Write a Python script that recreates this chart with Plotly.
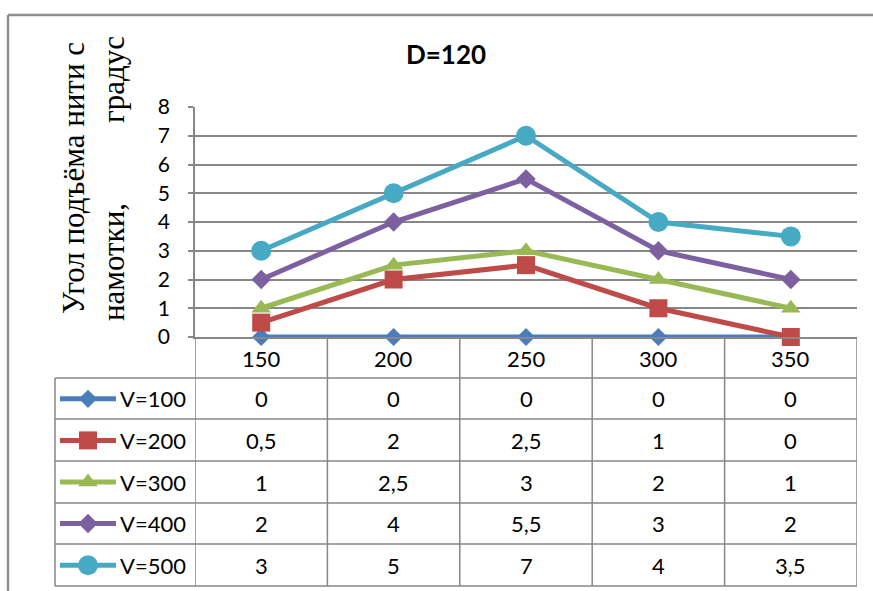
import plotly.graph_objects as go

# ---------------- data ----------------
categories = ["150", "200", "250", "300", "350"]
series_names = ["V=100", "V=200", "V=300", "V=400", "V=500"]
v100 = [0, 0, 0, 0, 0]
v200 = [0.5, 2, 2.5, 1, 0]
v300 = [1, 2.5, 3, 2, 1]
v400 = [2, 4, 5.5, 3, 2]
v500 = [3, 5, 7, 4, 3.5]
y_ticks = [0, 1, 2, 3, 4, 5, 6, 7, 8]
title_text = "D=120"
y_title_line1 = "Угол подъёма нити с"
y_title_line2a = "намотки,"
y_title_line2b = "градус"

series_values = [v100, v200, v300, v400, v500]

# ---------------- styles ----------------
W, H = 873, 591
colors = ["#4A7EBB", "#BE4B48", "#98B954", "#7D60A0", "#46AAC5"]
symbols = ["diamond", "square", "triangle-up", "diamond", "circle"]
msizes = [14, 18, 17, 15, 20]
LW = 5
GRID = "#878787"
FONT = "Lato"
SERIF = "Liberation Serif"


def px(x):
    return x / W


def py(y):
    return 1 - y / H


PL, PR, PT, PB = 195, 857, 107, 337          # plot area (pixels)
row_edges = [378, 419, 461, 503, 544, 586]    # table row borders
LEG_L = 55

fig = go.Figure()

# main series
for name, vals, c, s, ms in zip(series_names, series_values, colors, symbols, msizes):
    fig.add_trace(go.Scatter(
        x=list(range(len(categories))), y=vals, name=name, mode="lines+markers",
        line=dict(color=c, width=LW),
        marker=dict(symbol=s, size=ms, color=c, opacity=1, line=dict(width=0)),
        cliponaxis=False, showlegend=False, xaxis="x", yaxis="y"))

# legend keys in the data table (separate small axes)
for i, (c, s, ms) in enumerate(zip(colors, symbols, msizes)):
    fig.add_trace(go.Scatter(
        x=[0, 1], y=[i, i], mode="lines", line=dict(color=c, width=LW),
        cliponaxis=False, showlegend=False, hoverinfo="skip",
        xaxis="x2", yaxis="y2"))
    fig.add_trace(go.Scatter(
        x=[0.5], y=[i], mode="markers",
        marker=dict(symbol=s, size=ms, color=c, opacity=1, line=dict(width=0)),
        cliponaxis=False, showlegend=False, hoverinfo="skip",
        xaxis="x2", yaxis="y2"))

n = len(categories)
fig.update_layout(
    width=W, height=H, autosize=False,
    margin=dict(l=0, r=0, t=0, b=0, pad=0),
    paper_bgcolor="white", plot_bgcolor="white",
    font=dict(family=FONT, color="black"),
    title=dict(text="<b>" + title_text + "</b>", x=px(446), y=py(55),
               xanchor="center", yanchor="middle", automargin=False,
               font=dict(family=FONT, size=26, color="black")),
    xaxis=dict(domain=[px(PL), px(PR)], range=[-0.5, n - 0.5],
               showgrid=False, zeroline=False, showticklabels=False,
               showline=True, linecolor=GRID, linewidth=1.5, ticks="",
               automargin=False),
    yaxis=dict(domain=[py(PB), py(PT)], range=[0, 8], tickvals=y_ticks,
               showgrid=True, gridcolor=GRID, gridwidth=1.5, zeroline=False,
               showline=True, linecolor=GRID, linewidth=1.5,
               ticks="outside", ticklen=5, tickcolor=GRID, tickwidth=1.5,
               ticklabelstandoff=14, automargin=False,
               tickfont=dict(family=FONT, size=21, color="black")),
    xaxis2=dict(domain=[px(60), px(116)], range=[0, 1], visible=False,
                anchor="y2", automargin=False),
    yaxis2=dict(domain=[py(row_edges[-1]), py(row_edges[0])],
                range=[len(series_names) - 0.5, -0.5], visible=False,
                anchor="x2", automargin=False),
)

shapes = []
line_style = dict(color=GRID, width=1.5)
# outer frame of the chart object
shapes.append(dict(type="line", xref="paper", yref="paper",
                   x0=px(8), x1=px(W + 5), y0=py(15), y1=py(15),
                   line=dict(color="#8E8E8E", width=2.5)))
shapes.append(dict(type="line", xref="paper", yref="paper",
                   x0=px(8), x1=px(8), y0=py(15), y1=py(H + 5),
                   line=dict(color="#8E8E8E", width=2.5)))
# table horizontal lines
for r in row_edges:
    shapes.append(dict(type="line", xref="paper", yref="paper",
                       x0=px(LEG_L), x1=px(PR), y0=py(r), y1=py(r),
                       line=line_style))
# table vertical lines (column boundaries through the category scale)
for k in range(n + 1):
    shapes.append(dict(type="line", xref="x", yref="paper",
                       x0=k - 0.5, x1=k - 0.5, y0=py(PB), y1=py(row_edges[-1]),
                       line=line_style))
shapes.append(dict(type="line", xref="paper", yref="paper",
                   x0=px(LEG_L), x1=px(LEG_L), y0=py(row_edges[0]),
                   y1=py(row_edges[-1]), line=line_style))
fig.update_layout(shapes=shapes)


def fmt(v):
    if float(v).is_integer():
        return str(int(v))
    return str(v).replace(".", ",")


ann = []
# category labels in header row
for i, c in enumerate(categories):
    ann.append(dict(xref="x", yref="paper", x=i, y=py((PB + row_edges[0]) / 2 + 1),
                    text=c, showarrow=False, xanchor="center", yanchor="middle",
                    font=dict(family=FONT, size=22, color="black")))
# table values and legend names
for r, (name, vals) in enumerate(zip(series_names, series_values)):
    yc = py((row_edges[r] + row_edges[r + 1]) / 2)
    ann.append(dict(xref="paper", yref="paper", x=px(118), y=yc, text=name,
                    showarrow=False, xanchor="left", yanchor="middle",
                    font=dict(family=FONT, size=22, color="black")))
    for i, v in enumerate(vals):
        ann.append(dict(xref="x", yref="paper", x=i, y=yc, text=fmt(v),
                        showarrow=False, xanchor="center", yanchor="middle",
                        font=dict(family=FONT, size=22, color="black")))
# y-axis title (two rotated lines, justified)
ann.append(dict(xref="paper", yref="paper", x=px(73), y=py(178),
                text=y_title_line1, textangle=-90, showarrow=False,
                xanchor="center", yanchor="middle",
                font=dict(family=SERIF, size=31, color="black")))
ann.append(dict(xref="paper", yref="paper", x=px(113), y=py(262),
                text=y_title_line2a, textangle=-90, showarrow=False,
                xanchor="center", yanchor="middle",
                font=dict(family=SERIF, size=31, color="black")))
ann.append(dict(xref="paper", yref="paper", x=px(113), y=py(80),
                text=y_title_line2b, textangle=-90, showarrow=False,
                xanchor="center", yanchor="middle",
                font=dict(family=SERIF, size=31, color="black")))
fig.update_layout(annotations=ann)

fig.write_html("out.html", config={"displayModeBar": False},
               post_script="document.body.style.margin='0';document.body.style.overflow='hidden';")
